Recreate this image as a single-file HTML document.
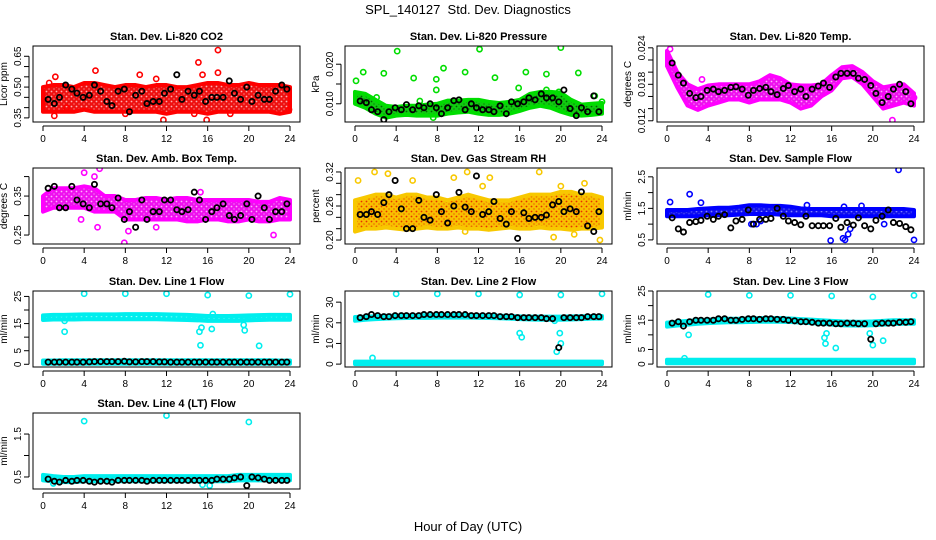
<!DOCTYPE html>
<html><head><meta charset="utf-8"><style>
body{margin:0;background:#fff;}
svg{display:block;font-family:"Liberation Sans",sans-serif;}
</style></head><body>
<svg id="c" width="936" height="540">
<defs id="defs"></defs>
<text x="468" y="14" text-anchor="middle" font-size="13">SPL_140127&#160; Std. Dev. Diagnostics</text>
<text x="468" y="531" text-anchor="middle" font-size="13">Hour of Day (UTC)</text>
</svg>
<script>
const HOURS=[0,1,2,3,4,5,6,7,8,9,10,11,12,13,14,15,16,17,18,19,20,21,22,23,24];
const BH=[0.5,1.1,1.6,2.2,2.8,3.3,3.9,4.5,5.0,5.6,6.2,6.7,7.3,7.9,8.4,9.0,9.6,10.1,10.7,11.3,11.8,12.4,13.0,13.5,14.1,14.7,15.2,15.8,16.4,16.9,17.5,18.1,18.6,19.2,19.8,20.3,20.9,21.5,22.0,22.6,23.2,23.7];
const XTICKS=[0,4,8,12,16,20,24];

// CO2
const co2Lo=[0.38,0.38,0.38,0.38,0.39,0.38,0.38,0.38,0.38,0.38,0.38,0.38,0.37,0.38,0.38,0.38,0.37,0.38,0.38,0.38,0.38,0.38,0.38,0.37,0.38];
const co2Hi=[0.50,0.51,0.51,0.50,0.52,0.52,0.51,0.50,0.51,0.51,0.50,0.51,0.51,0.50,0.50,0.51,0.52,0.52,0.51,0.51,0.52,0.51,0.51,0.51,0.50];
const co2OutX=[0.6,1.2,1.1,5.1,9.4,11.7,11.0,15.1,15.5,15.9,17.0,17.0,14.7,18.2,8.0,23.9,2.3];
const co2OutY=[0.52,0.55,0.36,0.58,0.56,0.34,0.54,0.62,0.56,0.34,0.68,0.57,0.37,0.37,0.37,0.39,0.40];
const co2Black=[0.44,0.42,0.45,0.51,0.49,0.47,0.45,0.46,0.51,0.48,0.43,0.41,0.48,0.49,0.38,0.46,0.48,0.42,0.43,0.43,0.47,0.49,0.56,0.44,0.48,0.46,0.48,0.43,0.45,0.45,0.45,0.53,0.47,0.44,0.50,0.43,0.46,0.44,0.44,0.48,0.51,0.49];
// Pressure
const prLo=[.0100,.0090,.0075,.0065,.0070,.0072,.0070,.0070,.0070,.0075,.0078,.0080,.0075,.0072,.0072,.0075,.0082,.0090,.0095,.0090,.0080,.0072,.0070,.0072,.0075];
const prHi=[.0130,.0125,.0110,.0095,.0092,.0095,.0095,.0098,.0100,.0108,.0108,.0110,.0110,.0105,.0102,.0105,.0110,.0125,.0130,.0130,.0128,.0110,.0098,.0100,.0102];
const prOutX=[0.1,0.8,2.1,2.8,4.1,5.7,6.3,7.9,7.9,8.6,10.7,12.1,13.6,15.9,16.6,18.6,18.6,20.0,19.8,21.7,23.3,24.0,7.6];
const prOutY=[.0158,.0180,.0116,.0177,.0233,.0165,.0107,.0162,.0135,.0190,.0180,.0238,.0166,.0140,.0180,.0175,.0135,.0242,.0130,.0178,.0120,.0105,.0065];
const prBlack=[.0107,.0103,.0085,.0080,.0060,.0080,.0090,.0085,.0098,.0085,.0095,.0090,.0100,.0090,.0075,.0090,.0108,.0110,.0085,.0100,.0090,.0085,.0085,.0080,.0095,.0075,.0105,.0100,.0105,.0115,.0110,.0125,.0115,.0115,.0105,.0135,.0088,.0070,.0090,.0080,.0120,.0080];
// Li-820 temp
const ltLo=[.0210,.0175,.0145,.0138,.0145,.0150,.0155,.0155,.0150,.0155,.0155,.0155,.0150,.0140,.0145,.0160,.0170,.0190,.0192,.0180,.0160,.0140,.0145,.0150,.0145];
const ltHi=[.0235,.0200,.0180,.0172,.0178,.0180,.0180,.0180,.0180,.0185,.0195,.0190,.0180,.0178,.0178,.0180,.0195,.0208,.0210,.0200,.0185,.0175,.0178,.0180,.0165];
const ltOutX=[0.3,3.4,21.9,22.3,21.2,24.0];
const ltOutY=[.0238,.0188,.0121,.0175,.0160,.0158];
const ltBlack=[.0215,.0195,.0182,.0165,.0158,.0160,.0170,.0172,.0168,.0170,.0175,.0176,.0172,.0162,.0170,.0173,.0175,.0168,.0163,.0173,.0178,.0168,.0172,.0160,.0172,.0177,.0182,.0175,.0192,.0198,.0198,.0198,.0190,.0188,.0178,.0165,.0150,.0160,.0172,.0180,.0168,.0148];
// Amb box temp
const abLo=[.31,.32,.32,.32,.32,.31,.31,.31,.29,.29,.29,.29,.29,.29,.285,.285,.29,.29,.285,.285,.29,.285,.285,.29,.29];
const abHi=[.35,.37,.37,.37,.375,.37,.35,.35,.34,.34,.345,.345,.34,.345,.345,.34,.34,.34,.34,.34,.34,.335,.335,.345,.34];
const abOutX=[5.5,5.0,7.9,8.3,3.7,5.3,15.3,22.4,11.0,4.0];
const abOutY=[.42,.40,.23,.26,.29,.27,.36,.25,.27,.41];
const abBlack=[.37,.375,.32,.32,.375,.34,.33,.32,.38,.33,.33,.32,.345,.29,.31,.27,.34,.29,.31,.31,.34,.34,.315,.31,.315,.36,.34,.29,.31,.32,.33,.30,.29,.30,.33,.29,.35,.32,.29,.31,.31,.33];
// Gas stream RH
const rhLo=[.215,.22,.22,.222,.22,.218,.22,.222,.22,.22,.222,.22,.22,.218,.22,.222,.22,.22,.222,.22,.22,.218,.22,.22,.222];
const rhHi=[.27,.275,.28,.28,.275,.28,.28,.275,.275,.27,.275,.28,.275,.27,.27,.27,.275,.28,.28,.28,.285,.285,.28,.28,.275];
const rhOutX=[0.3,1.9,3.2,5.6,9.6,10.9,12.4,13.1,17.9,20.0,22.3,23.8,21.3,19.3,10.7];
const rhOutY=[.305,.32,.317,.305,.31,.32,.295,.31,.32,.295,.30,.20,.21,.205,.215];
const rhBlack=[.245,.245,.25,.245,.266,.28,.305,.255,.22,.22,.27,.24,.235,.28,.25,.23,.26,.284,.258,.25,.313,.245,.25,.268,.238,.228,.25,.203,.248,.238,.24,.24,.244,.262,.268,.25,.255,.25,.285,.225,.215,.25];
// Sample flow
const sfLo=[1.25,1.25,1.25,1.25,1.28,1.28,1.28,1.30,1.32,1.32,1.32,1.30,1.28,1.28,1.28,1.28,1.25,1.25,1.25,1.25,1.25,1.25,1.25,1.25,1.25];
const sfHi=[1.45,1.45,1.45,1.48,1.50,1.52,1.52,1.55,1.60,1.60,1.58,1.58,1.55,1.50,1.48,1.48,1.48,1.48,1.48,1.48,1.48,1.48,1.48,1.48,1.45];
const sfOutX=[0.3,2.2,3.3,8.2,8.7,9.1,13.6,15.9,17.1,17.3,17.6,17.8,18.9,21.1,22.5,24.0,17.2];
const sfOutY=[1.7,1.95,1.68,1.0,1.0,1.1,1.6,0.48,0.55,0.5,0.68,0.85,1.58,1.0,2.72,0.5,1.55];
const sfBlack=[1.2,0.85,0.75,1.05,1.08,1.12,1.25,1.15,1.25,1.3,0.88,1.1,1.15,1.45,1.0,1.15,1.15,1.18,1.5,1.25,1.1,1.05,0.98,1.25,0.95,0.95,0.95,0.95,1.18,0.9,1.05,0.97,1.2,0.95,0.85,1.12,1.25,1.45,1.05,1.02,0.92,0.82];
// Line 1
const l1Lo=[16.3,16.5,16.5,16.5,16.6,16.6,16.6,16.6,16.6,16.6,16.6,16.6,16.5,16.4,16.3,16.2,16.0,16.0,16.0,16.0,16.2,16.3,16.4,16.4,16.4];
const l1Hi=[18.0,18.2,18.2,18.3,18.4,18.4,18.4,18.4,18.5,18.5,18.5,18.5,18.4,18.3,18.2,18.0,17.8,17.8,17.8,17.9,18.0,18.1,18.2,18.2,18.2];
const l1LowLo=[0.2,0.2,0.2,0.2,0.2,0.2,0.2,0.2,0.2,0.2,0.2,0.2,0.2,0.2,0.2,0.2,0.2,0.2,0.2,0.2,0.2,0.2,0.2,0.2,0.2];
const l1LowHi=[1.4,1.4,1.5,1.5,1.5,1.5,1.5,1.5,1.5,1.5,1.5,1.5,1.5,1.5,1.5,1.5,1.5,1.5,1.5,1.5,1.5,1.5,1.5,1.4,1.4];
const l1OutX=[4,8,12,16,20,24,2.1,15.2,15.4,15.3,16.4,19.6,21.0,16.5,19.5,2.1];
const l1OutY=[26,26,26,25.5,25.3,25.8,12,12,13.5,7,13,12.5,6.8,18.5,14.5,16];
const l1Black=[0.8,0.8,0.8,0.8,0.8,0.8,0.8,0.9,1.0,1.0,1.0,1.0,1.0,1.1,0.9,0.9,1.0,1.0,1.0,0.9,0.9,0.8,0.8,0.8,0.8,0.8,0.8,0.8,0.8,0.8,0.8,0.8,0.8,0.8,0.8,0.8,0.8,0.8,0.8,0.8,0.8,0.8];
// Line 2
const l2Lo=[21.0,21.5,21.8,22.0,22.2,22.3,22.4,22.4,22.5,22.5,22.5,22.5,22.4,22.3,22.2,22.0,21.8,21.6,21.5,21.5,21.5,21.6,21.8,22.0,22.0];
const l2Hi=[22.8,23.0,23.2,23.4,23.5,23.6,23.7,23.7,23.8,23.8,23.8,23.8,23.7,23.6,23.5,23.3,23.1,23.0,23.0,23.0,23.0,23.1,23.2,23.3,23.3];
const l2LowLo=[0,0,0,0,0,0,0,0,0,0,0,0,0,0,0,0,0,0,0,0,0,0,0,0,0];
const l2LowHi=[1.2,1.2,1.2,1.2,1.2,1.2,1.2,1.2,1.2,1.2,1.2,1.2,1.2,1.2,1.2,1.2,1.2,1.2,1.2,1.2,1.2,1.2,1.2,1.2,1.2];
const l2OutX=[4,8,12,16,20,24,1.7,16.0,16.2,19.4,19.9,20.0,19.6];
const l2OutY=[34,34,34,33.5,33.5,34,3,15,13,21,15,10,6];
const l2Black=[22.5,23,24,23.5,23,23,23.5,23.5,23.5,23.5,23.5,24,24,24,24,24,24,24,24,23.5,23.5,23.5,23.5,23.5,23,23,23,22.5,22.5,22.5,22.5,22.5,22,22,8,22.5,22.5,22.5,22.5,23,23,23];
// Line 3
const l3Lo=[12.8,13.2,13.5,13.8,14.0,14.2,14.3,14.3,14.4,14.5,14.5,14.5,14.4,14.2,14.0,13.8,13.5,13.3,13.2,13.2,13.3,13.5,13.7,13.8,13.8];
const l3Hi=[14.2,14.5,14.8,15.0,15.2,15.4,15.5,15.5,15.6,15.7,15.7,15.7,15.6,15.4,15.2,15.0,14.8,14.6,14.5,14.5,14.6,14.8,15.0,15.0,15.0];
const l3LowLo=[0.3,0.3,0.3,0.3,0.3,0.3,0.3,0.3,0.3,0.3,0.3,0.3,0.3,0.3,0.3,0.3,0.3,0.3,0.3,0.3,0.3,0.3,0.3,0.3,0.3];
const l3LowHi=[1.5,1.5,1.5,1.5,1.5,1.5,1.5,1.5,1.5,1.5,1.5,1.5,1.5,1.5,1.5,1.5,1.5,1.5,1.5,1.5,1.5,1.5,1.5,1.5,1.5];
const l3OutX=[4,8,12,16,20,24,2.1,15.3,15.5,15.4,16.4,19.7,20.0,21.0,1.7];
const l3OutY=[23.8,23.5,23.5,23.3,23,23.5,10,9,10.5,7,5.5,10.5,6.5,8,2];
const l3Black=[14,14.5,13,14.5,15,15,15,15,15.5,15.5,15,15,15.3,15.5,15.5,15.3,15.5,15.5,15.3,15.3,15,14.8,14.5,14.5,14.3,14,14,14,13.8,13.8,14,14,13.8,13.8,8.5,13.8,14,14,14,14.3,14.3,14.5];
// Line 4
const l4Lo=[0.42,0.40,0.38,0.38,0.40,0.40,0.40,0.40,0.40,0.40,0.40,0.40,0.40,0.40,0.40,0.40,0.40,0.40,0.40,0.42,0.42,0.42,0.42,0.42,0.42];
const l4Hi=[0.55,0.52,0.50,0.50,0.52,0.52,0.52,0.52,0.52,0.52,0.52,0.52,0.52,0.52,0.52,0.52,0.52,0.52,0.52,0.55,0.55,0.55,0.55,0.55,0.55];
const l4OutX=[4,12,20,15.5,16.2,1.0];
const l4OutY=[1.8,1.93,1.78,0.32,0.30,0.35];
const l4Black=[.45,.4,.38,.42,.4,.42,.42,.4,.38,.4,.4,.38,.42,.42,.42,.42,.42,.4,.42,.42,.42,.42,.42,.42,.42,.42,.42,.42,.42,.45,.45,.45,.48,.5,.3,.5,.48,.45,.42,.42,.42,.42];

const NS='http://www.w3.org/2000/svg';
const svg=document.getElementById('c');
const defs=document.getElementById('defs');
function mk(tag,attrs,parent){const e=document.createElementNS(NS,tag);for(const k in attrs)e.setAttribute(k,attrs[k]);(parent||svg).appendChild(e);return e;}
const COLS=[33,345,657],ROWS=[46,168,291,413],W=267,H=76;
let patN=0;
function pattern(bg,dot){
  const id='pat'+(patN++);
  const p=mk('pattern',{id:id,width:5,height:5,patternUnits:'userSpaceOnUse'},defs);
  mk('rect',{width:5,height:5,fill:bg},p);
  mk('circle',{cx:1.5,cy:1.5,r:0.9,fill:dot},p);
  mk('circle',{cx:4,cy:4,r:0.6,fill:dot},p);
  return 'url(#'+id+')';
}

function panel(p){
  const L=COLS[p.col],T=ROWS[p.row],B=T+H,R=L+W;
  const g=mk('g',{});
  
  
  const xs=h=>L+10+h/24*247;
  const ys=v=>B-(v-p.ymin)/(p.ymax-p.ymin)*H;
  const t=mk('text',{x:L+W/2,y:T-6,'text-anchor':'middle','font-size':11,'font-weight':'bold'},g);
  t.textContent=p.title;
  
  
  const clip='clip'+p.col+p.row;
  const cp=mk('clipPath',{id:clip},g);mk('rect',{x:L,y:T,width:W,height:H},cp);
  const pg=mk('g',{'clip-path':'url(#'+clip+')'},g);
  const fillUrl=pattern(p.fill,p.dot);
  p.bands.forEach(b=>{
    let pts=HOURS.map((h,i)=>xs(h)+','+ys(b[1][i]));
    for(let i=HOURS.length-1;i>=0;i--)pts.push(xs(HOURS[i])+','+ys(b[0][i]));
    const poly=mk('polygon',{points:pts.join(' '),fill:fillUrl,stroke:p.color,'stroke-width':4,'stroke-linejoin':'round'},pg);
    
    
  });
  p.outX.forEach((h,i)=>{
    const c=mk('circle',{cx:xs(h),cy:ys(p.outY[i]),r:2.6,fill:'none',stroke:p.color,'stroke-width':1.6},pg);
    
    
  });
  BH.forEach((h,i)=>{
    const c=mk('circle',{cx:xs(h),cy:ys(p.black[i]),r:2.6,fill:'none',stroke:'#000','stroke-width':1.8},pg);
    
    
  });
  const box=mk('rect',{x:L,y:T,width:W,height:H,fill:'none',stroke:'#000','stroke-width':1},g);
  
  
  mk('line',{x1:xs(0),x2:xs(24),y1:B+4,y2:B+4,stroke:'#000'},g);
  XTICKS.forEach(h=>{
    mk('line',{x1:xs(h),x2:xs(h),y1:B+4,y2:B+9,stroke:'#000'},g);
    const tx=mk('text',{x:xs(h),y:B+20,'text-anchor':'middle','font-size':10},g);
    tx.textContent=h;
    
    
  });
  mk('line',{x1:L-4,x2:L-4,y1:ys(p.yt[0]),y2:ys(p.yt[p.yt.length-1]),stroke:'#000'},g);
  p.yt.forEach((v,i)=>{
    const y=ys(v);
    mk('line',{x1:L-9,x2:L-4,y1:y,y2:y,stroke:'#000'},g);
    if(p.yl[i]){
      const tx=mk('text',{x:L-12,y:y,'text-anchor':'middle','font-size':10,transform:'rotate(-90 '+(L-12)+' '+y+')'},g);
      tx.textContent=p.yl[i];
      
      
    }
  });
  const yl=mk('text',{x:L-26,y:T+H/2,'text-anchor':'middle','font-size':10,transform:'rotate(-90 '+(L-26)+' '+(T+H/2)+')'},g);
  yl.textContent=p.ylab;
  
  
}

panel({name:'panel-co2',col:0,row:0,title:'Stan. Dev. Li-820 CO2',ylab:'Licor ppm',ymin:0.33,ymax:0.70,yt:[0.35,0.40,0.45,0.50,0.55,0.60,0.65],yl:['0.35','','','0.50','','','0.65'],color:'#ff0000',fill:'#ee1010',dot:'#ffb0b0',bands:[[co2Lo,co2Hi]],outX:co2OutX,outY:co2OutY,black:co2Black});
panel({name:'panel-pressure',col:1,row:0,title:'Stan. Dev. Li-820 Pressure',ylab:'kPa',ymin:0.0054,ymax:0.0246,yt:[0.010,0.015,0.020],yl:['0.010','','0.020'],color:'#00dd00',fill:'#10cc10',dot:'#006600',bands:[[prLo,prHi]],outX:prOutX,outY:prOutY,black:prBlack});
panel({name:'panel-li820-temp',col:2,row:0,title:'Stan. Dev. Li-820 Temp.',ylab:'degrees C',ymin:0.0118,ymax:0.0243,yt:[0.012,0.014,0.016,0.018,0.020,0.022,0.024],yl:['0.012','','','0.018','','','0.024'],color:'#ff00ff',fill:'#ee10ee',dot:'#ffb0ff',bands:[[ltLo,ltHi]],outX:ltOutX,outY:ltOutY,black:ltBlack});
panel({name:'panel-amb-box-temp',col:0,row:1,title:'Stan. Dev. Amb. Box Temp.',ylab:'degrees C',ymin:0.227,ymax:0.422,yt:[0.25,0.30,0.35,0.40],yl:['0.25','','0.35',''],color:'#ff00ff',fill:'#ee10ee',dot:'#ffb0ff',bands:[[abLo,abHi]],outX:abOutX,outY:abOutY,black:abBlack});
panel({name:'panel-gas-rh',col:1,row:1,title:'Stan. Dev. Gas Stream RH',ylab:'percent',ymin:0.193,ymax:0.327,yt:[0.20,0.22,0.24,0.26,0.28,0.30,0.32],yl:['0.20','','','0.26','','','0.32'],color:'#f8c800',fill:'#f8c000',dot:'#e83000',bands:[[rhLo,rhHi]],outX:rhOutX,outY:rhOutY,black:rhBlack});
panel({name:'panel-sample-flow',col:2,row:1,title:'Stan. Dev. Sample Flow',ylab:'ml/min',ymin:0.37,ymax:2.78,yt:[0.5,1.0,1.5,2.0,2.5],yl:['0.5','','1.5','','2.5'],color:'#0000ff',fill:'#1010ee',dot:'#8080ff',bands:[[sfLo,sfHi]],outX:sfOutX,outY:sfOutY,black:sfBlack});
panel({name:'panel-line1-flow',col:0,row:2,title:'Stan. Dev. Line 1 Flow',ylab:'ml/min',ymin:-1,ymax:27,yt:[0,5,10,15,20,25],yl:['0','5','','15','','25'],color:'#00eeee',fill:'#00eeee',dot:'#b0ffff',bands:[[l1Lo,l1Hi],[l1LowLo,l1LowHi]],outX:l1OutX,outY:l1OutY,black:l1Black});
panel({name:'panel-line2-flow',col:1,row:2,title:'Stan. Dev. Line 2 Flow',ylab:'ml/min',ymin:-1.4,ymax:35.4,yt:[0,10,20,30],yl:['0','10','20','30'],color:'#00eeee',fill:'#00eeee',dot:'#b0ffff',bands:[[l2Lo,l2Hi],[l2LowLo,l2LowHi]],outX:l2OutX,outY:l2OutY,black:l2Black});
panel({name:'panel-line3-flow',col:2,row:2,title:'Stan. Dev. Line 3 Flow',ylab:'ml/min',ymin:-1,ymax:25,yt:[0,5,10,15,20,25],yl:['0','5','','15','','25'],color:'#00eeee',fill:'#00eeee',dot:'#b0ffff',bands:[[l3Lo,l3Hi],[l3LowLo,l3LowHi]],outX:l3OutX,outY:l3OutY,black:l3Black});
panel({name:'panel-line4-flow',col:0,row:3,title:'Stan. Dev. Line 4 (LT) Flow',ylab:'ml/min',ymin:0.22,ymax:1.99,yt:[0.5,1.0,1.5],yl:['0.5','','1.5'],color:'#00eeee',fill:'#00eeee',dot:'#b0ffff',bands:[[l4Lo,l4Hi]],outX:l4OutX,outY:l4OutY,black:l4Black});
</script>
</body></html>
